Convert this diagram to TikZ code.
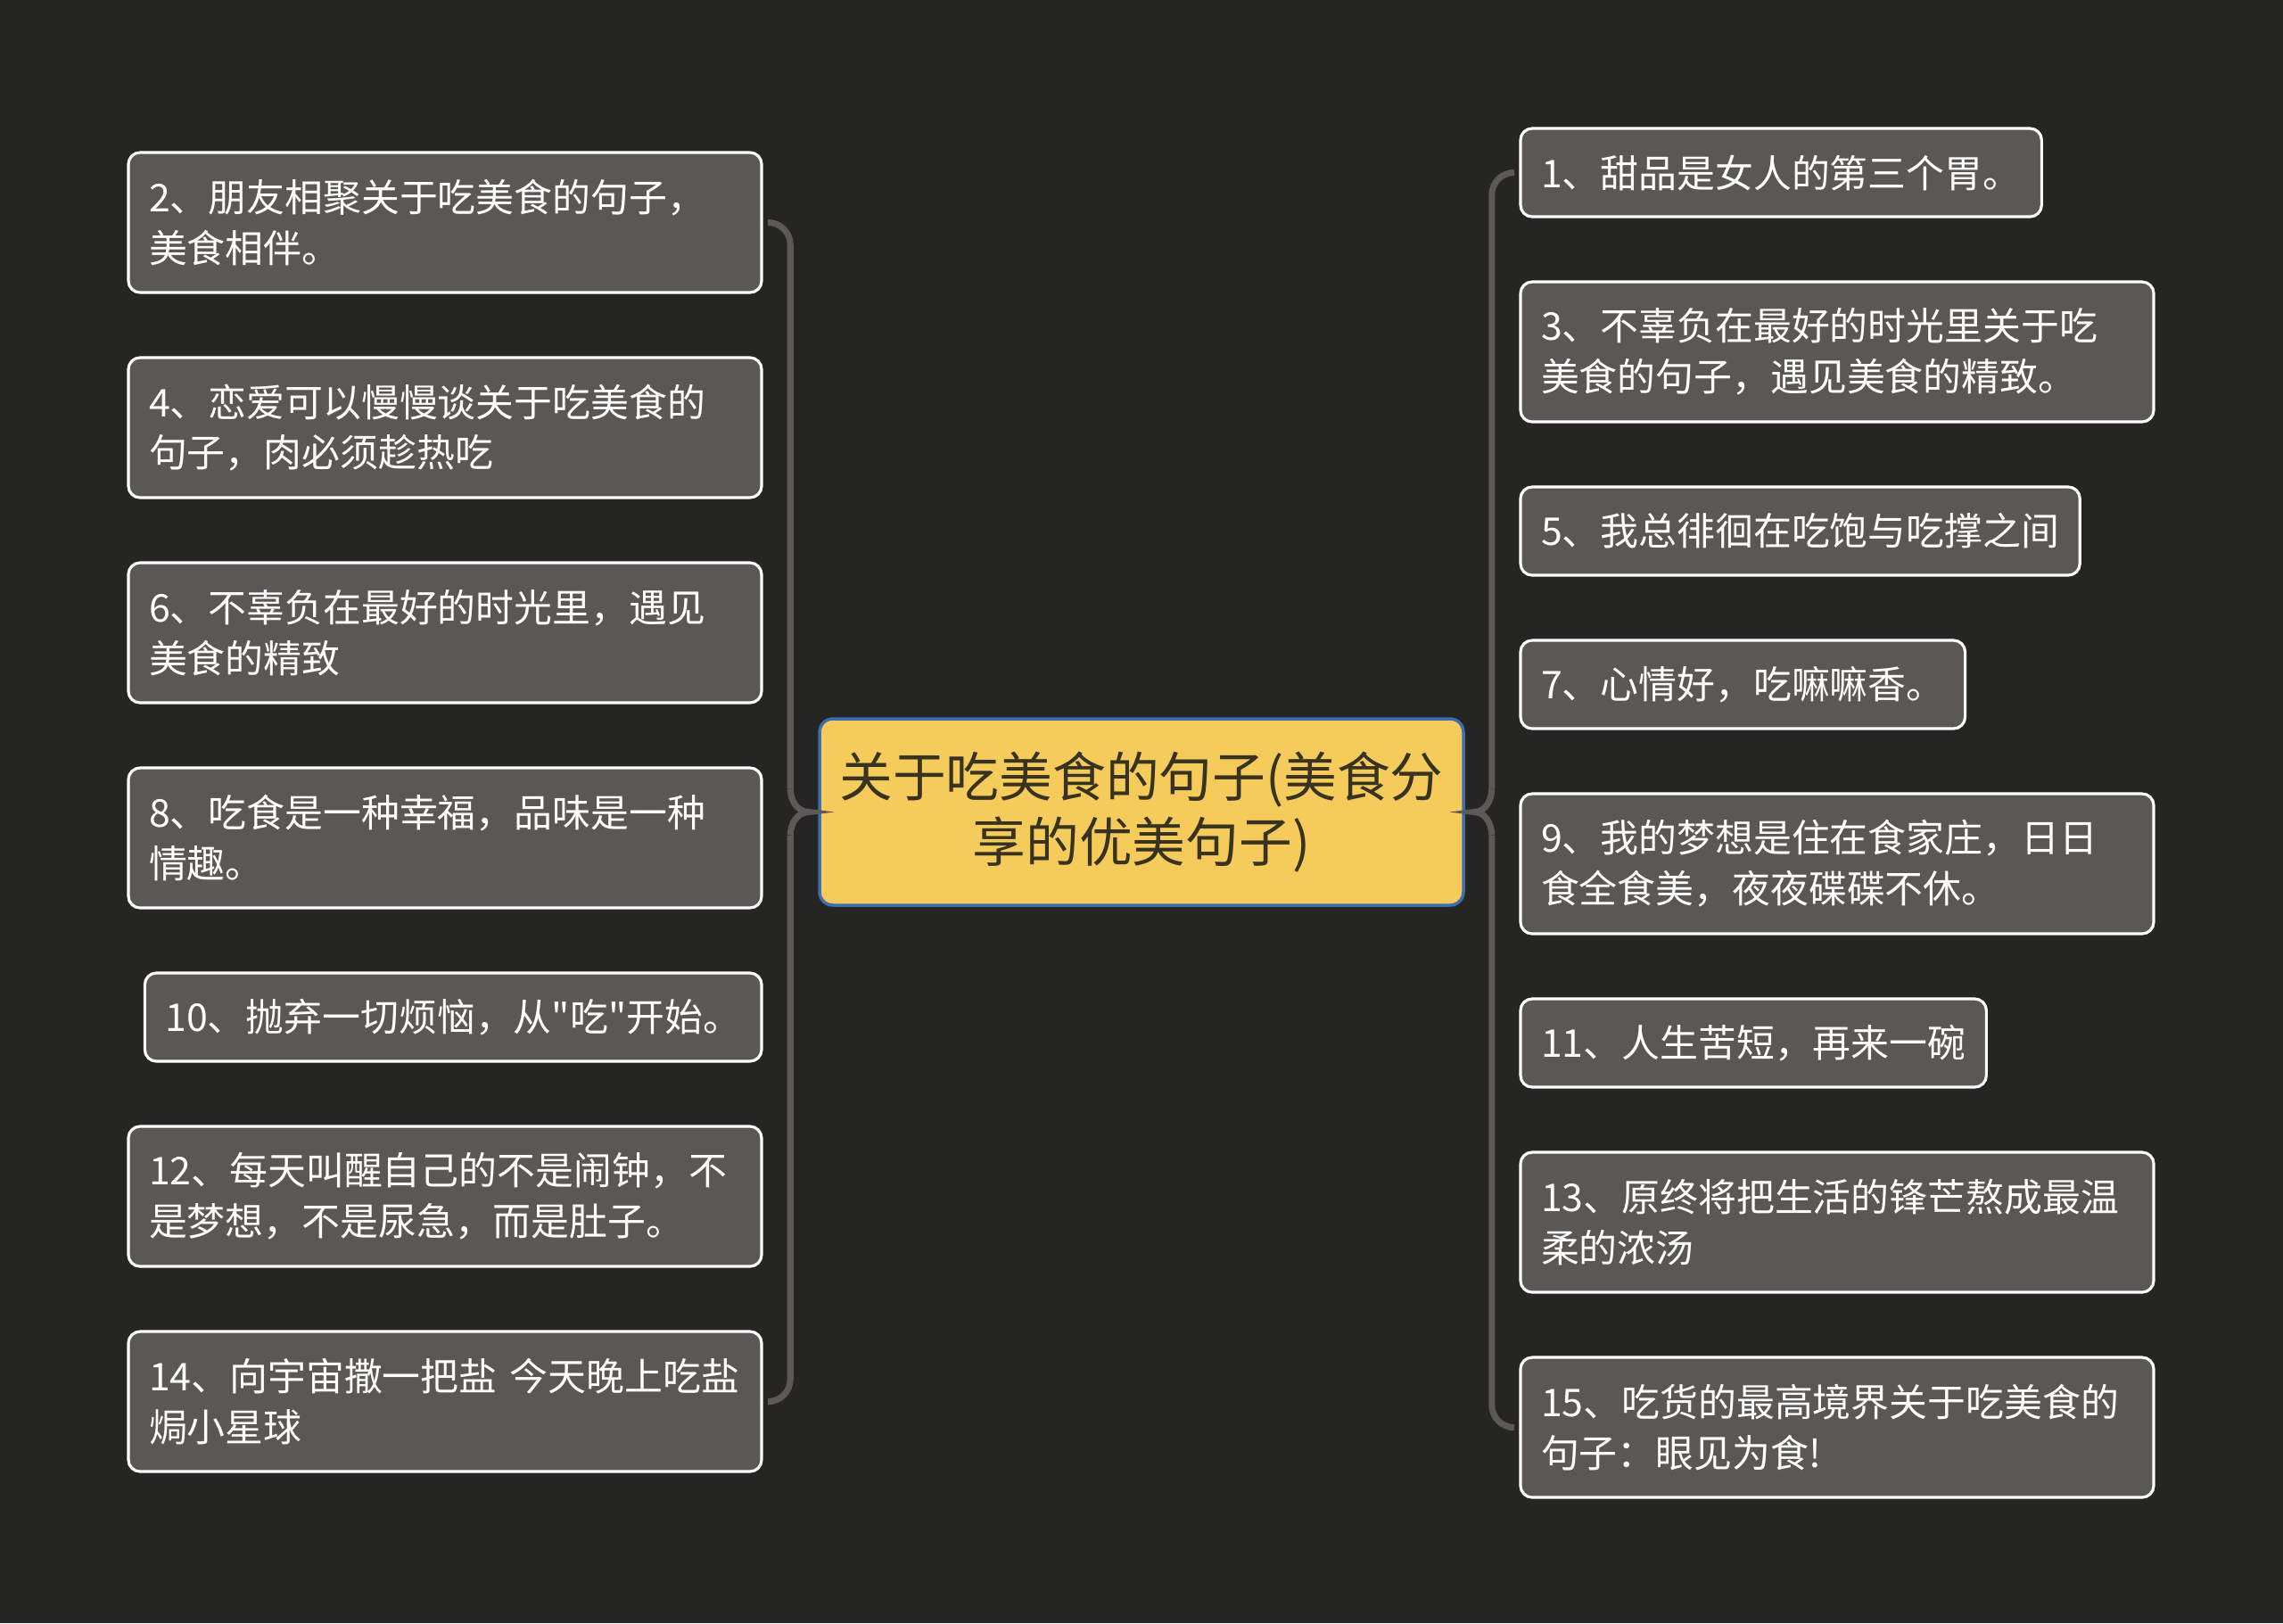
\documentclass[tikz,border=0pt]{standalone}
\usepackage{fontspec}
\setmainfont{Noto Sans CJK SC}[Ligatures=TeXOff]
\usetikzlibrary{positioning, calc}
\definecolor{bgdark}{HTML}{252523}
\definecolor{leafgray}{HTML}{5A5754}
\definecolor{linegray}{HTML}{5C5956}
\definecolor{rootyellow}{HTML}{F5CB5C}
\definecolor{rootblue}{HTML}{3C6EB4}
\definecolor{roottext}{HTML}{38331F}

\begin{document}
\begin{tikzpicture}[
    leaf/.style={draw=white, line width=0.9pt, fill=leafgray, rounded corners=0.13cm, text=white,
        font=\fontsize{12.2}{16.2}\selectfont, align=left, inner xsep=0.23cm, inner ysep=0cm,
        outer sep=0pt, minimum height=0.99cm},
    leaftwo/.style={leaf, text width=6.64cm, minimum height=1.57cm},
    root/.style={draw=rootblue, line width=1pt, fill=rootyellow, rounded corners=0.15cm, text=roottext,
        font=\fontsize{17}{20.7}\selectfont, align=center, minimum width=7.22cm, minimum height=2.09cm},
    branch/.style={draw=linegray, line width=2pt}
]
    \fill[bgdark] (0,0) rectangle (25.6,-18.2);
    \useasboundingbox (0,0) rectangle (25.6,-18.2);

    \node[root] (root) at (12.80,-9.105) {关于吃美食的句子(美食分\\享的优美句子)};

    \node[leaftwo, anchor=north east] (n2) at (8.54,-1.71) {2、朋友相聚关于吃美食的句子，\\美食相伴。};
    \node[leaftwo, below left=0.73cm and 0cm of n2.south east] (n4) {4、恋爱可以慢慢谈关于吃美食的\\句子，肉必须趁热吃};
    \node[leaftwo, below left=0.73cm and 0cm of n4.south east] (n6) {6、不辜负在最好的时光里，遇见\\美食的精致};
    \node[leaftwo, below left=0.73cm and 0cm of n6.south east] (n8) {8、吃食是一种幸福，品味是一种\\情趣。};
    \node[leaf, below left=0.73cm and 0cm of n8.south east] (n10) {10、抛弃一切烦恼，从"吃"开始。};
    \node[leaftwo, below left=0.73cm and 0cm of n10.south east] (n12) {12、每天叫醒自己的不是闹钟，不\\是梦想，不是尿急，而是肚子。};
    \node[leaftwo, below left=0.73cm and 0cm of n12.south east] (n14) {14、向宇宙撒一把盐 今天晚上吃盐\\焗小星球};

    \node[leaf, anchor=north west] (n1) at (17.05,-1.44) {1、甜品是女人的第三个胃。};
    \node[leaftwo, below right=0.73cm and 0cm of n1.south west] (n3) {3、不辜负在最好的时光里关于吃\\美食的句子，遇见美食的精致。};
    \node[leaf, below right=0.73cm and 0cm of n3.south west] (n5) {5、我总徘徊在吃饱与吃撑之间};
    \node[leaf, below right=0.73cm and 0cm of n5.south west] (n7) {7、心情好，吃嘛嘛香。};
    \node[leaftwo, below right=0.73cm and 0cm of n7.south west] (n9) {9、我的梦想是住在食家庄，日日\\食全食美，夜夜碟碟不休。};
    \node[leaf, below right=0.73cm and 0cm of n9.south west] (n11) {11、人生苦短，再来一碗};
    \node[leaftwo, below right=0.73cm and 0cm of n11.south west] (n13) {13、原终将把生活的锋芒熬成最温\\柔的浓汤};
    \node[leaftwo, below right=0.73cm and 0cm of n13.south west] (n15) {15、吃货的最高境界关于吃美食的\\句子：眼见为食!};

    \coordinate (ltip) at ([xshift=-0.1cm]root.west);
    \coordinate (rtip) at ([xshift=0.1cm]root.east);
    \draw[branch, rounded corners=0.25cm] ([xshift=0.11cm]n2.east) -| ($(ltip)+(-0.21,0.26)$);
    \draw[branch] ($(ltip)+(-0.21,0.26)$) to[out=-90, in=180] (ltip) to[out=180, in=90] ($(ltip)+(-0.21,-0.26)$);
    \draw[branch, rounded corners=0.25cm] ($(ltip)+(-0.21,-0.26)$) |- ([xshift=0.11cm]n14.east);
    \draw[branch, rounded corners=0.25cm] ([xshift=-0.12cm]n1.west) -| ($(rtip)+(0.2,0.26)$);
    \draw[branch] ($(rtip)+(0.2,0.26)$) to[out=-90, in=0] (rtip) to[out=0, in=90] ($(rtip)+(0.2,-0.26)$);
    \draw[branch, rounded corners=0.25cm] ($(rtip)+(0.2,-0.26)$) |- ([xshift=-0.12cm]n15.west);
\end{tikzpicture}
\end{document}
